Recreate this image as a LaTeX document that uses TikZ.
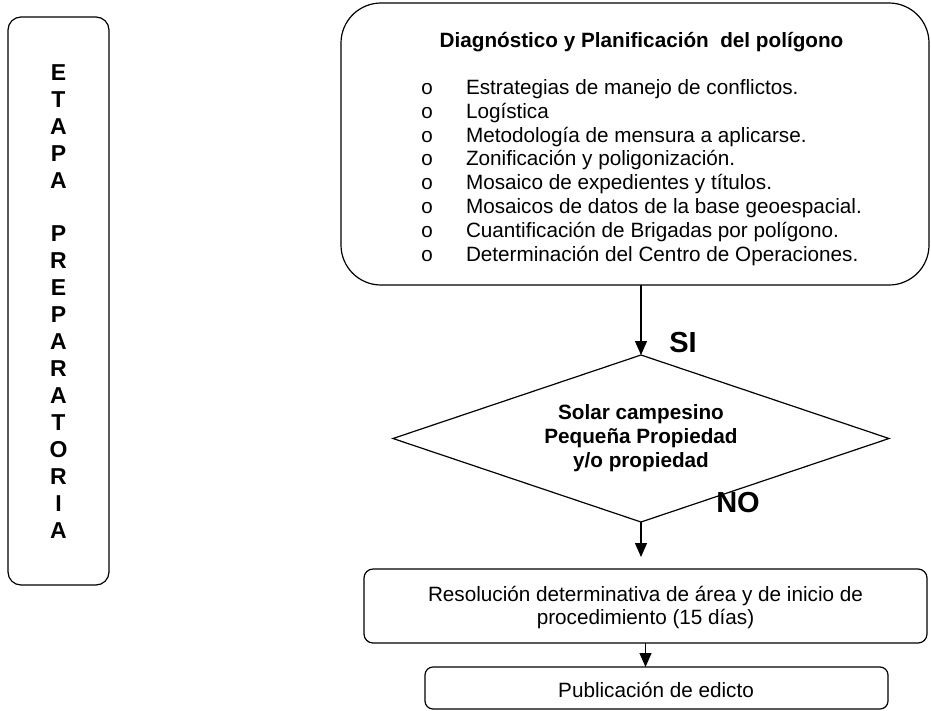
\documentclass[tikz,border=0pt]{standalone}
\usepackage{fontspec}
\setmainfont{Liberation Sans}
\newfontfamily\bulletfont{Liberation Mono}
\usetikzlibrary{shapes.geometric,arrows.meta}
\begin{document}
\begin{tikzpicture}[x=1pt,y=-1pt,
  every node/.style={inner sep=0pt, outer sep=0pt},
  body/.style={font=\fontsize{20.7}{23.8}\selectfont},
  bodybold/.style={font=\bfseries\fontsize{20.7}{24}\selectfont},
  frame/.style={draw, line width=1.2pt},
  arr/.style={line width=1.2pt, -{Triangle[length=14pt,width=12pt]}},
  letter/.style={font=\bfseries\fontsize{23}{26}\selectfont, anchor=base},
  bigbold/.style={font=\bfseries\fontsize{29}{32}\selectfont}
]
\useasboundingbox (0,0) rectangle (931,710);

% left vertical box
\node[frame, rounded corners=13pt, minimum width=101pt, minimum height=568pt] (etapa) at (58.5,301) {};
\foreach \ch [count=\i] in {E,T,A,P,A,{},P,R,E,P,A,R,A,T,O,R,I,A}{
  \node[letter] (l\i) at (58.5,{72+26.94*(\i-1)+8.3}) {\ch};
}

% main box
\node[frame, rounded corners=40pt, minimum width=588pt, minimum height=282pt] (diag) at (635,144) {};
\node[bodybold, anchor=base] (title) at (641.5,47.5) {Diagnóstico y Planificación\ \ del polígono};
\foreach \txt [count=\i] in {
  Estrategias de manejo de conflictos.,
  Logística,
  Metodología de mensura a aplicarse.,
  Zonificación y poligonización.,
  Mosaico de expedientes y títulos.,
  Mosaicos de datos de la base geoespacial.,
  Cuantificación de Brigadas por polígono.,
  Determinación del Centro de Operaciones.}{
  \node[body, anchor=base] (b\i) at (427,{87+23.8*(\i-1)+7.4}) {\bulletfont o};
  \node[body, anchor=base west] (it\i) at (466,{87+23.8*(\i-1)+7.4}) {\txt};
}

% decision
\node[frame, diamond, aspect=2.97, minimum width=496pt, minimum height=167pt] (dec) at (641,438.5) {};
\node[bodybold, align=center] (dectxt) at (641,438.5) {Solar campesino\\Pequeña Propiedad\\y/o propiedad};
\node[bigbold] (si) at (683,343) {SI};
\node[bigbold] (no) at (738,503) {NO};

% process boxes
\node[frame, rounded corners=9pt, minimum width=563pt, minimum height=74pt] (res) at (645.5,606) {};
\node[body, align=center] (restxt) at (645.5,607.5) {Resolución determinativa de área y de inicio de\\procedimiento (15 días)};
\node[frame, rounded corners=8pt, minimum width=463pt, minimum height=42pt] (pub) at (656.5,688) {};
\node[body] (pubtxt) at (656,689.5) {Publicación de edicto};

% connectors
\draw[arr] (dec.north |- diag.south) -- (dec.north);
\coordinate (a2end) at (641,557);
\draw[arr] (dec.south) -- (a2end);
\draw[arr] (res.south) -- (res.south |- pub.north);
\end{tikzpicture}
\end{document}
